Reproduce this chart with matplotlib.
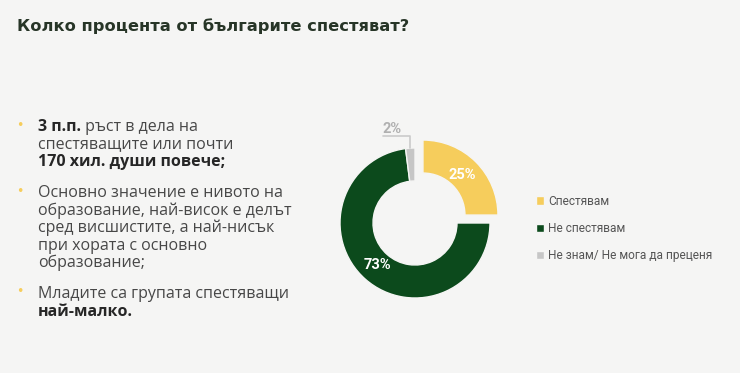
import matplotlib
matplotlib.use("Agg")
import matplotlib.pyplot as plt
from matplotlib.transforms import IdentityTransform
import numpy as np

# ---- data ----
title = "Колко процента от българите спестяват?"
categories = ["Спестявам", "Не спестявам", "Не знам/ Не мога да преценя"]
values = [25, 73, 2]
colors = ["#F6CD5C", "#0C4A1C", "#C6C6C6"]
bullets = [
    [[("3 п.п.", True), (" ръст в дела на", False)],
     [("спестяващите или почти", False)],
     [("170 хил. души повече;", True)]],
    [[("Основно значение е нивото на", False)],
     [("образование, най-висок е делът", False)],
     [("сред висшистите, а най-нисък", False)],
     [("при хората с основно", False)],
     [("образование;", False)]],
    [[("Младите са групата спестяващи", False)],
     [("най-малко.", True)]],
]

W, H = 740, 373
BG = "#F5F5F4"
fig = plt.figure(figsize=(W / 100, H / 100), dpi=100, facecolor=BG)
ident = IdentityTransform()

def px(x, y):
    return x, H - y

# title
fig.text(*px(17, 31), title, transform=ident, fontsize=11.7, fontweight="bold",
         family="DejaVu Sans", color="#273527", va="baseline", ha="left")

renderer = fig.canvas.get_renderer()
BODY_FS = 11.5
FAM = "Open Sans"

def rich_line(x, y, segs):
    cx = x
    for s, bold in segs:
        t = fig.text(*px(cx, y), s, transform=ident, fontsize=BODY_FS, family=FAM,
                     fontweight="bold" if bold else "normal",
                     color="#262626" if bold else "#474747", va="baseline", ha="left")
        bb = t.get_window_extent(renderer)
        cx += bb.width

line_h = 17.6
block_starts = [131, 197, 298]
for start, block in zip(block_starts, bullets):
    fig.text(*px(20, start - 6), "•", transform=ident, fontsize=9, color="#F6CD5C",
             va="center", ha="center", family="DejaVu Sans")
    for i, segs in enumerate(block):
        rich_line(38, start + i * line_h, segs)

# donut
cx, cy, R = 415, 223, 75
half = 1.25
size = R * half * 2
ax = fig.add_axes([(cx - size / 2) / W, (H - cy - size / 2) / H, size / W, size / H])
ax.set_facecolor(BG)
wedges, _ = ax.pie(values, colors=colors, startangle=90, counterclock=False,
                   explode=[0.15, 0, 0], radius=1,
                   wedgeprops=dict(width=0.44, edgecolor=BG, linewidth=1.0))
ax.set_xlim(-half, half)
ax.set_ylim(-half, half)
ax.set_aspect("equal")
ax.axis("off")

for w, v in zip(wedges[:2], values[:2]):
    ang = np.deg2rad((w.theta1 + w.theta2) / 2)
    x0, y0 = w.center
    r = 0.75
    ax.text(x0 + r * np.cos(ang), y0 + r * np.sin(ang), f"{v}%", color="white",
            fontsize=10.5, fontweight="bold", family="Roboto", ha="center", va="center")

g = wedges[2]
ang = np.deg2rad((g.theta1 + g.theta2) / 2)
tip = (np.cos(ang) * 1.0, np.sin(ang) * 1.0)
ax.annotate(f"{values[2]}%", xy=tip, xytext=(-0.3, 1.26),
            fontsize=10.5, fontweight="bold", family="Roboto", color="#B0B0B0",
            ha="center", va="center",
            arrowprops=dict(arrowstyle="-", color="#CACACA", lw=1.2,
                            connectionstyle="angle,angleA=0,angleB=90,rad=0",
                            shrinkA=0, shrinkB=0, patchA=None,
                            relpos=(0.0, 0.0)))

leg = fig.legend(wedges, categories, loc="upper left",
                 bbox_to_anchor=(525 / W, 1 - 184 / H), frameon=False,
                 handlelength=0.7, handleheight=0.7, handletextpad=0.35,
                 labelspacing=1.2, prop=dict(family="Roboto", size=8.6))
for t in leg.get_texts():
    t.set_color("#555555")

fig.savefig("out.png", dpi=100, facecolor=BG)
